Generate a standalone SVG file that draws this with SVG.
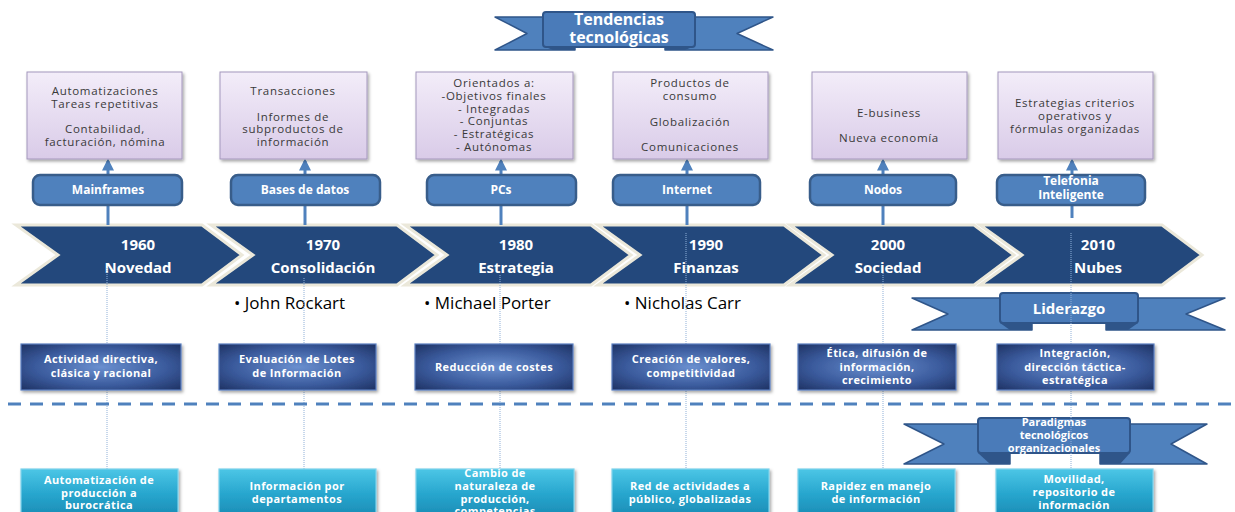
<svg xmlns="http://www.w3.org/2000/svg" width="1235" height="512" viewBox="0 0 1235 512">
  <defs>
    <linearGradient id="lilac" x1="0" y1="0" x2="0" y2="1">
      <stop offset="0" stop-color="#f3edf9"/>
      <stop offset="1" stop-color="#d9cbe8"/>
    </linearGradient>
    <radialGradient id="navy" cx="0.5" cy="0.5" r="0.75">
      <stop offset="0" stop-color="#6a8fcf"/>
      <stop offset="0.55" stop-color="#3a5a9c"/>
      <stop offset="1" stop-color="#1a2b59"/>
    </radialGradient>
    <linearGradient id="teal" x1="0" y1="0" x2="0" y2="1">
      <stop offset="0" stop-color="#4cc6e6"/>
      <stop offset="0.5" stop-color="#27a6ce"/>
      <stop offset="1" stop-color="#1a89b2"/>
    </linearGradient>
    <filter id="shadow" x="-10%" y="-10%" width="125%" height="130%">
      <feDropShadow dx="1.5" dy="2" stdDeviation="1.5" flood-color="#000" flood-opacity="0.35"/>
    </filter>
    <marker id="arrow" viewBox="0 0 10 10" refX="8" refY="5" markerWidth="4" markerHeight="4" orient="auto">
      <path d="M0,0 L10,5 L0,10 Z" fill="#4f81bd"/>
    </marker>
    <style>
      .lilac-box { fill: url(#lilac); stroke: #a497bd; stroke-width: 1; filter: url(#shadow); }
      .lilac-text { font-family: "Open Sans", "Noto Sans", sans-serif; font-size: 11.5px; fill: #3a3a3a; text-anchor: middle; letter-spacing: 0.7px; }
      .pill { fill: #4f81bd; stroke: #385d8a; stroke-width: 2.5; }
      .pill-text { font-family: "Open Sans", "Noto Sans", sans-serif; font-size: 12px; font-weight: bold; fill: #ffffff; text-anchor: middle; }
      .chev { fill: #23487c; stroke: #ebe8da; stroke-width: 3; stroke-linejoin: miter; }
      .chev-text { font-family: "Open Sans", "Noto Sans", sans-serif; font-size: 15px; font-weight: bold; fill: #ffffff; text-anchor: middle; }
      .name { font-family: "Open Sans", "Noto Sans", sans-serif; font-size: 17px; fill: #000000; }
      .navy-box { fill: url(#navy); stroke: #5a7fc0; stroke-width: 1.2; filter: url(#shadow); }
      .teal-box { fill: url(#teal); stroke: #7fd2ec; stroke-width: 1.2; filter: url(#shadow); }
      .box-text { font-family: "Open Sans", "Noto Sans", sans-serif; font-size: 11px; font-weight: bold; fill: #ffffff; text-anchor: middle; letter-spacing: 0.4px; }
      .tail { fill: #4f81bd; stroke: #2f5589; stroke-width: 1.5; stroke-linejoin: round; }
      .fold { fill: #2f5589; }
      .ribbon-face { fill: #4a7bb9; stroke: #2f5589; stroke-width: 2; }
      .ribbon-text { font-family: "Open Sans", "Noto Sans", sans-serif; font-weight: bold; fill: #ffffff; text-anchor: middle; }
      .link { stroke: #4f81bd; stroke-width: 3; fill: none; }
      .guide { stroke: #8fb0d8; stroke-width: 1; stroke-dasharray: 1 1; fill: none; }
      .divider { stroke: #4f81bd; stroke-width: 3; stroke-dasharray: 13 9; fill: none; }
    </style>
  </defs>

  <rect width="1235" height="512" fill="#ffffff"/>

  <!-- banner: Tendencias tecnológicas -->
  <g id="banner-tendencias">
    <path class="tail" d="M495,17 H575 V50 H495 L527,33.5 Z"/>
    <path class="tail" d="M773,17 H665 V50 H773 L737,33.5 Z"/>
    <path class="fold" d="M543,46 L575,46 L575,50 L553,50 Z"/>
    <path class="fold" d="M665,46 L695,46 L685,50 L665,50 Z"/>
    <rect class="ribbon-face" x="543" y="12" width="152" height="35" rx="3"/>
    <text class="ribbon-text" x="619" y="25" font-size="16">Tendencias</text>
    <text class="ribbon-text" x="619" y="43" font-size="16">tecnológicas</text>
  </g>

  <!-- timeline chevrons -->
  <g id="chevrons">
    <g id="chev-1960">
      <path class="chev" d="M16,225 H202 L242,255 L202,285 H16 L58,255 Z"/>
      <text class="chev-text" x="138" y="250">1960</text>
      <text class="chev-text" x="138" y="273">Novedad</text>
    </g>
    <g id="chev-1970">
      <path class="chev" d="M211,225 H397 L437,255 L397,285 H211 L253,255 Z"/>
      <text class="chev-text" x="323" y="250">1970</text>
      <text class="chev-text" x="323" y="273">Consolidación</text>
    </g>
    <g id="chev-1980">
      <path class="chev" d="M405,225 H591 L631,255 L591,285 H405 L447,255 Z"/>
      <text class="chev-text" x="516" y="250">1980</text>
      <text class="chev-text" x="516" y="273">Estrategia</text>
    </g>
    <g id="chev-1990">
      <path class="chev" d="M598,225 H784 L824,255 L784,285 H598 L640,255 Z"/>
      <text class="chev-text" x="706" y="250">1990</text>
      <text class="chev-text" x="706" y="273">Finanzas</text>
    </g>
    <g id="chev-2000">
      <path class="chev" d="M790,225 H974 L1014,255 L974,285 H790 L832,255 Z"/>
      <text class="chev-text" x="888" y="250">2000</text>
      <text class="chev-text" x="888" y="273">Sociedad</text>
    </g>
    <g id="chev-2010">
      <path class="chev" d="M980,225 H1162 L1202,255 L1162,285 H980 L1022,255 Z"/>
      <text class="chev-text" x="1098" y="250">2010</text>
      <text class="chev-text" x="1098" y="273">Nubes</text>
    </g>
  </g>

  <!-- authors -->
  <g id="authors">
    <text class="name" x="234" y="309">• John Rockart</text>
    <text class="name" x="424" y="309">• Michael Porter</text>
    <text class="name" x="624" y="309">• Nicholas Carr</text>
  </g>

  <!-- banner: Liderazgo -->
  <g id="banner-liderazgo">
    <path class="tail" d="M912,298 H1032 V330 H912 L948,314 Z"/>
    <path class="tail" d="M1225,298 H1106 V330 H1225 L1186,314 Z"/>
    <path class="fold" d="M1000,323 L1032,323 L1032,330 L1010,330 Z"/>
    <path class="fold" d="M1106,323 L1138,323 L1128,330 L1106,330 Z"/>
    <rect class="ribbon-face" x="1000" y="293" width="138" height="30" rx="3"/>
    <text class="ribbon-text" x="1069" y="314" font-size="15">Liderazgo</text>
  </g>

  <!-- banner: Paradigmas tecnológicos organizacionales -->
  <g id="banner-paradigmas">
    <path class="tail" d="M904,424 H1010 V464 H904 L944,444 Z"/>
    <path class="tail" d="M1207,424 H1100 V464 H1207 L1171,444 Z"/>
    <path class="fold" d="M978,453 L1010,453 L1010,464 L990,464 Z"/>
    <path class="fold" d="M1100,453 L1130,453 L1120,464 L1100,464 Z"/>
    <rect class="ribbon-face" x="978" y="418" width="152" height="35" rx="3"/>
    <text class="ribbon-text" x="1054" y="426" font-size="11">Paradigmas</text>
    <text class="ribbon-text" x="1054" y="439" font-size="11">tecnológicos</text>
    <text class="ribbon-text" x="1054" y="452" font-size="11">organizacionales</text>
  </g>

  <!-- connectors -->
  <g id="connectors">
    <line class="link" x1="108" y1="174" x2="108" y2="161" marker-end="url(#arrow)"/>
    <line class="link" x1="305" y1="174" x2="305" y2="161" marker-end="url(#arrow)"/>
    <line class="link" x1="501" y1="174" x2="501" y2="161" marker-end="url(#arrow)"/>
    <line class="link" x1="687" y1="174" x2="687" y2="161" marker-end="url(#arrow)"/>
    <line class="link" x1="883" y1="174" x2="883" y2="161" marker-end="url(#arrow)"/>
    <line class="link" x1="1072" y1="174" x2="1072" y2="161" marker-end="url(#arrow)"/>

    <line class="link" x1="108" y1="205" x2="108" y2="225"/>
    <line class="link" x1="305" y1="205" x2="305" y2="225"/>
    <line class="link" x1="501" y1="205" x2="501" y2="225"/>
    <line class="link" x1="687" y1="205" x2="687" y2="225"/>
    <line class="link" x1="883" y1="205" x2="883" y2="225"/>
    <line class="link" x1="1072" y1="205" x2="1072" y2="218"/>

    <line class="guide" x1="107" y1="268" x2="107" y2="469"/>
    <line class="guide" x1="304" y1="278" x2="304" y2="469"/>
    <line class="guide" x1="500" y1="275" x2="500" y2="469"/>
    <line class="guide" x1="686" y1="233" x2="686" y2="469"/>
    <line class="guide" x1="883" y1="273" x2="883" y2="469"/>
    <line class="guide" x1="1071" y1="233" x2="1071" y2="469"/>

    <line class="divider" x1="8" y1="404" x2="1235" y2="404"/>
  </g>

  <!-- technology pills -->
  <g id="pill-mainframes">
    <rect class="pill" x="33" y="175" width="149" height="30" rx="7"/>
    <text class="pill-text" x="108" y="194">Mainframes</text>
  </g>
  <g id="pill-bases">
    <rect class="pill" x="231" y="175" width="149" height="30" rx="7"/>
    <text class="pill-text" x="305" y="194">Bases de datos</text>
  </g>
  <g id="pill-pcs">
    <rect class="pill" x="427" y="175" width="149" height="30" rx="7"/>
    <text class="pill-text" x="501" y="194">PCs</text>
  </g>
  <g id="pill-internet">
    <rect class="pill" x="613" y="175" width="147" height="30" rx="7"/>
    <text class="pill-text" x="687" y="194">Internet</text>
  </g>
  <g id="pill-nodos">
    <rect class="pill" x="810" y="175" width="146" height="30" rx="7"/>
    <text class="pill-text" x="883" y="194">Nodos</text>
  </g>
  <g id="pill-telefonia">
    <rect class="pill" x="997" y="175" width="148" height="30" rx="7"/>
    <text class="pill-text" x="1071" y="185">Telefonia</text>
    <text class="pill-text" x="1071" y="199">Inteligente</text>
  </g>

  <!-- upper description boxes -->
  <g id="top-1960">
    <rect class="lilac-box" x="27" y="72" width="155" height="87"/>
    <text class="lilac-text" x="105" y="95">Automatizaciones</text>
    <text class="lilac-text" x="105" y="107.5">Tareas repetitivas</text>
    <text class="lilac-text" x="105" y="133">Contabilidad,</text>
    <text class="lilac-text" x="105" y="145.5">facturación, nómina</text>
  </g>
  <g id="top-1970">
    <rect class="lilac-box" x="220" y="72" width="147" height="87"/>
    <text class="lilac-text" x="293" y="95">Transacciones</text>
    <text class="lilac-text" x="293" y="120.5">Informes de</text>
    <text class="lilac-text" x="293" y="133">subproductos de</text>
    <text class="lilac-text" x="293" y="145.5">información</text>
  </g>
  <g id="top-1980">
    <rect class="lilac-box" x="416" y="72" width="157" height="87"/>
    <text class="lilac-text" x="494" y="87">Orientados a:</text>
    <text class="lilac-text" x="494" y="100">-Objetivos finales</text>
    <text class="lilac-text" x="494" y="112.5">- Integradas</text>
    <text class="lilac-text" x="494" y="125">- Conjuntas</text>
    <text class="lilac-text" x="494" y="138">- Estratégicas</text>
    <text class="lilac-text" x="494" y="150.5">- Autónomas</text>
  </g>
  <g id="top-1990">
    <rect class="lilac-box" x="613" y="72" width="155" height="87"/>
    <text class="lilac-text" x="690" y="87">Productos de</text>
    <text class="lilac-text" x="690" y="99.5">consumo</text>
    <text class="lilac-text" x="690" y="126">Globalización</text>
    <text class="lilac-text" x="690" y="151">Comunicaciones</text>
  </g>
  <g id="top-2000">
    <rect class="lilac-box" x="812" y="72" width="155" height="87"/>
    <text class="lilac-text" x="889" y="117">E-business</text>
    <text class="lilac-text" x="889" y="142">Nueva economía</text>
  </g>
  <g id="top-2010">
    <rect class="lilac-box" x="998" y="72" width="155" height="87"/>
    <text class="lilac-text" x="1075" y="107">Estrategias criterios</text>
    <text class="lilac-text" x="1075" y="120">operativos y</text>
    <text class="lilac-text" x="1075" y="132.5">fórmulas organizadas</text>
  </g>

  <!-- management focus boxes -->
  <g id="focus-1960">
    <rect class="navy-box" x="21" y="344" width="160" height="46"/>
    <text class="box-text" x="101" y="363">Actividad directiva,</text>
    <text class="box-text" x="101" y="376.5">clásica y racional</text>
  </g>
  <g id="focus-1970">
    <rect class="navy-box" x="219" y="344" width="157" height="46"/>
    <text class="box-text" x="297" y="363">Evaluación de Lotes</text>
    <text class="box-text" x="297" y="376.5">de Información</text>
  </g>
  <g id="focus-1980">
    <rect class="navy-box" x="415" y="344" width="158" height="46"/>
    <text class="box-text" x="494" y="371">Reducción de costes</text>
  </g>
  <g id="focus-1990">
    <rect class="navy-box" x="612" y="344" width="158" height="46"/>
    <text class="box-text" x="691" y="363">Creación de valores,</text>
    <text class="box-text" x="691" y="376.5">competitividad</text>
  </g>
  <g id="focus-2000">
    <rect class="navy-box" x="798" y="344" width="158" height="46"/>
    <text class="box-text" x="877" y="357">Ética, difusión de</text>
    <text class="box-text" x="877" y="371">información,</text>
    <text class="box-text" x="877" y="384">crecimiento</text>
  </g>
  <g id="focus-2010">
    <rect class="navy-box" x="997" y="344" width="157" height="46"/>
    <text class="box-text" x="1075" y="357">Integración,</text>
    <text class="box-text" x="1075" y="371">dirección táctica-</text>
    <text class="box-text" x="1075" y="384">estratégica</text>
  </g>

  <!-- organisational paradigm boxes -->
  <g id="paradigm-1960">
    <rect class="teal-box" x="21" y="469" width="157" height="50"/>
    <text class="box-text" x="99" y="484">Automatización de</text>
    <text class="box-text" x="99" y="496.5">producción a</text>
    <text class="box-text" x="99" y="509">burocrática</text>
  </g>
  <g id="paradigm-1970">
    <rect class="teal-box" x="219" y="469" width="157" height="50"/>
    <text class="box-text" x="297" y="490">Información por</text>
    <text class="box-text" x="297" y="502.5">departamentos</text>
  </g>
  <g id="paradigm-1980">
    <rect class="teal-box" x="416" y="469" width="158" height="50"/>
    <text class="box-text" x="495" y="477">Cambio de</text>
    <text class="box-text" x="495" y="490">naturaleza de</text>
    <text class="box-text" x="495" y="503">producción,</text>
    <text class="box-text" x="495" y="515">competencias</text>
  </g>
  <g id="paradigm-1990">
    <rect class="teal-box" x="612" y="469" width="157" height="50"/>
    <text class="box-text" x="690" y="490">Red de actividades a</text>
    <text class="box-text" x="690" y="502.5">público, globalizadas</text>
  </g>
  <g id="paradigm-2000">
    <rect class="teal-box" x="798" y="469" width="157" height="50"/>
    <text class="box-text" x="876" y="490">Rapidez en manejo</text>
    <text class="box-text" x="876" y="502.5">de información</text>
  </g>
  <g id="paradigm-2010">
    <rect class="teal-box" x="996" y="469" width="157" height="50"/>
    <text class="box-text" x="1074" y="483">Movilidad,</text>
    <text class="box-text" x="1074" y="496">repositorio de</text>
    <text class="box-text" x="1074" y="509">información</text>
  </g>
</svg>
